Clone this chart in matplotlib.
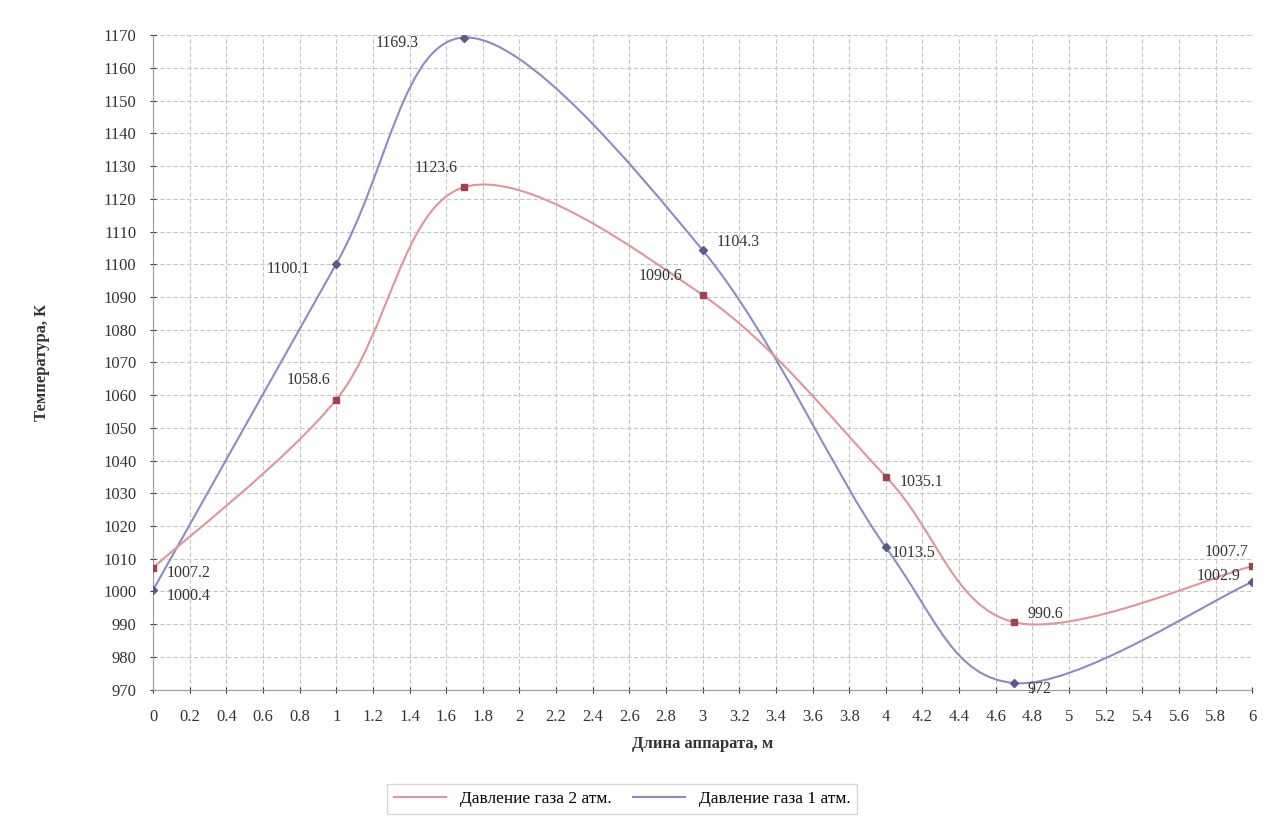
import numpy as np
import matplotlib.pyplot as plt
from matplotlib.path import Path
from matplotlib.patches import PathPatch
from matplotlib.lines import Line2D
from matplotlib.ticker import MultipleLocator, FuncFormatter

# длина аппарата, м
x_2atm = [0, 1, 1.7, 3, 4, 4.7, 6]
t_2atm = [1007.2, 1058.6, 1123.6, 1090.6, 1035.1, 990.6, 1007.7]

x_1atm = [0, 1, 1.7, 3, 4, 4.7, 6]
t_1atm = [1000.4, 1100.1, 1169.3, 1104.3, 1013.5, 972.0, 1002.9]

labels = ["Давление газа 2 атм.", "Давление газа 1 атм."]

c_red = "#e0949c"
c_blue = "#8c8cc4"

plt.rcParams['font.family'] = ['Liberation Serif', 'DejaVu Serif']


def smooth_path(xs, ys):
    # сглаженная линия как в Excel (кривые Безье через точки)
    p = np.column_stack([xs, ys]).astype(float)
    n = len(p)
    verts = [p[0]]
    codes = [Path.MOVETO]
    for i in range(n - 1):
        p_prev = p[i - 1] if i > 0 else p[i]
        p_next = p[i + 2] if i + 2 < n else p[i + 1]
        c1 = p[i] + (p[i + 1] - p_prev) / 6
        c2 = p[i + 1] - (p_next - p[i]) / 6
        verts += [c1, c2, p[i + 1]]
        codes += [Path.CURVE4] * 3
    return Path(verts, codes)


fig = plt.figure(figsize=(12.7, 8.19), dpi=100)
ax = fig.add_axes([0.1205, 0.158, 0.8655, 0.799])

ax.add_patch(PathPatch(smooth_path(x_1atm, t_1atm), fc='none', ec=c_blue, lw=1.5, zorder=3))
ax.add_patch(PathPatch(smooth_path(x_2atm, t_2atm), fc='none', ec=c_red, lw=1.5, zorder=3))
ax.plot(x_1atm, t_1atm, ls='none', marker='D', ms=4.5, color='#5a5a8c', zorder=4)
ax.plot(x_2atm, t_2atm, ls='none', marker='s', ms=4, color='#9c4450', zorder=4)

# подписи значений
off_1atm = [(10, -4), (-50, -4), (-64, -4), (10, 6), (4, -4), (10, -4), (-40, 4)]
off_2atm = [(10, -4), (-36, 14), (-36, 14), (-46, 14), (10, -4), (10, 6), (-34, 10)]
for xs, ys, offs in [(x_1atm, t_1atm, off_1atm), (x_2atm, t_2atm, off_2atm)]:
    for xv, yv, o in zip(xs, ys, offs):
        ax.annotate(f"{yv:g}", (xv, yv), xytext=o, textcoords='offset points',
                    fontsize=11.5, color='#333333', va='center', zorder=5,
                    annotation_clip=False)

ax.set_xlim(0, 6)
ax.set_ylim(970, 1170)
ax.xaxis.set_major_locator(MultipleLocator(0.2))
ax.yaxis.set_major_locator(MultipleLocator(10))
ax.xaxis.set_major_formatter(FuncFormatter(lambda v, p: f"{round(v, 1):g}"))
ax.tick_params(axis='both', labelsize=12, colors='#333333', length=4, direction='inout')
ax.tick_params(axis='y', pad=10)
ax.tick_params(axis='x', pad=12)
ax.grid(True, color='#c6c6c6', ls=(0, (4, 2)), lw=0.8)
for s in ['top', 'right']:
    ax.spines[s].set_visible(False)
for s in ['left', 'bottom']:
    ax.spines[s].set_color('#9a9a9a')

ax.set_xlabel("Длина аппарата, м", fontsize=12, fontweight='bold', color='#333333', labelpad=8)
ax.set_ylabel("Температура, К", fontsize=12, fontweight='bold', color='#333333', labelpad=38)

handles = [Line2D([], [], color=c_red, lw=1.5), Line2D([], [], color=c_blue, lw=1.5)]
leg = fig.legend(handles, labels, loc='center', bbox_to_anchor=(0.49, 0.025), ncol=2,
                 fontsize=12.5, frameon=True, fancybox=False, edgecolor='#cccccc',
                 handlelength=3, columnspacing=1.2)

fig.savefig("out.png", dpi=100)
